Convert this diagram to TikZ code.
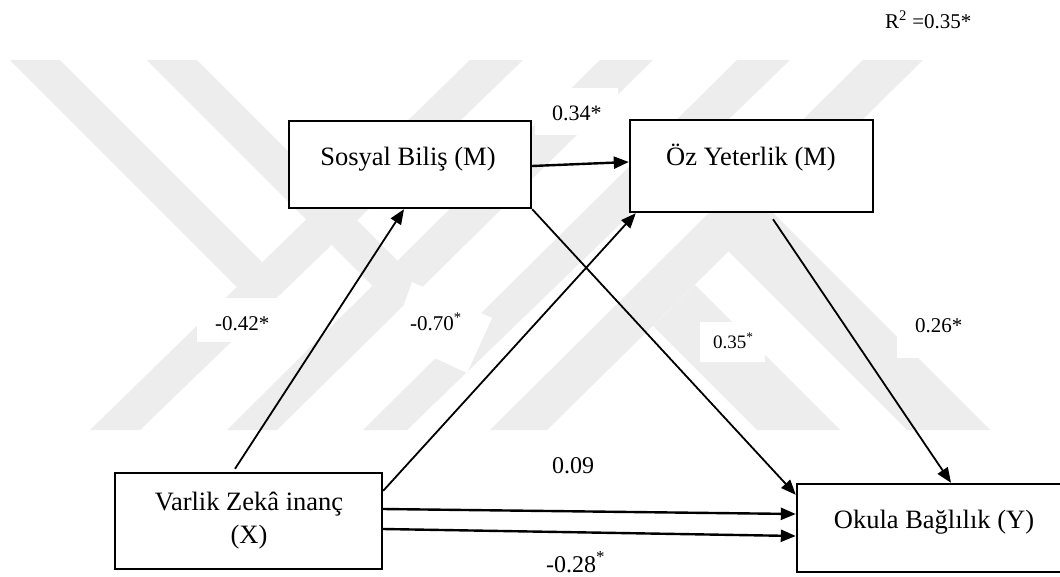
\documentclass[tikz,border=0pt]{standalone}
\usepackage{fontspec}
\setmainfont{Liberation Serif}
\usetikzlibrary{arrows.meta}
\definecolor{wm}{gray}{0.93}

\begin{document}
\begin{tikzpicture}[x=1pt,y=-1pt,
  box/.style={draw=black, line width=2.4pt, fill=white, inner sep=0pt},
  boxtxt/.style={font=\fontsize{26.5}{33}\selectfont, inner sep=0pt, anchor=base},
  lbl/.style={font=\fontsize{21}{24}\selectfont, inner sep=0pt, anchor=base west},
  arr/.style={line width=1.8pt, -{Triangle[length=15pt,width=12pt]}},
  harr/.style={arr, line width=2.4pt},
  patch/.style={fill=white, draw=none}
]
\clip (0,0) rectangle (1060,576);
\fill[white] (0,0) rectangle (1060,576);

% faint logo in the background
\fill[wm] (10,60) -- (60,60) -- (262,262) -- (237,287) -- cycle;
\fill[wm] (470,60) -- (523,60) -- (140,430) -- (90,430) -- cycle;
\fill[wm] (147,60) -- (197,60) -- (398,261) -- (373,286) -- cycle;
\fill[wm] (600,60) -- (653,60) -- (277,430) -- (227,430) -- cycle;
\fill[wm] (363,430) -- (407,430) -- (790,60) -- (737,60) -- cycle;
\fill[wm] (490,430) -- (547,430) -- (923,60) -- (863,60) -- cycle;
\fill[wm] (653,326) -- (695,285) -- (840,430) -- (757,430) -- cycle;
\fill[wm] (728,251) -- (770,210) -- (990,430) -- (907,430) -- cycle;

% white grounds behind the coefficients
\fill[patch] (535,88) rectangle (618,135);
\fill[patch] (197,298) rectangle (280,342);
\fill[patch] (412,282) -- (492,318) -- (467,373) -- (392,338) -- cycle;
\fill[patch] (700,322) rectangle (765,362);
\fill[patch] (897,300) rectangle (975,358);

% boxes
\node[box, minimum width=242pt, minimum height=87pt] (sb) at (410,164.5) {};
\node[box, minimum width=243pt, minimum height=92pt] (oz) at (751.5,166) {};
\node[box, minimum width=267pt, minimum height=96pt] (vz) at (248.5,521) {};
\node[box, minimum width=266pt, minimum height=88pt] (ok) at (930,528) {};

\node[boxtxt] (sbt) at (408,165) {Sosyal Biliş (M)};
\node[boxtxt] (ozt) at (751,165) {Öz Yeterlik (M)};
\node[boxtxt] (vzt1) at (249,510) {Varlik Zekâ inanç};
\node[boxtxt] (vzt2) at (249,543) {(X)};
\node[boxtxt] (okt) at (934,528) {Okula Bağlılık (Y)};

% paths
\draw[harr] ([yshift=-1.5pt]sb.east) -- ([yshift=4pt]oz.west);
\draw[arr] ([xshift=-13.5pt,yshift=3pt]vz.north) -- ([xshift=-6pt]sb.south);
\draw[arr] ([yshift=-19pt]vz.north east) -- ([xshift=7pt]oz.south west);
\draw[arr] (sb.south east) -- ([yshift=-12pt]ok.north west);
\draw[arr] ([xshift=21.5pt,yshift=-6pt]oz.south) -- ([xshift=21pt]ok.north);
\draw[harr] ([yshift=12pt]vz.east) -- ([yshift=14pt]ok.west);
\draw[harr] ([yshift=-8pt]vz.east) -- ([yshift=-8pt]ok.west);

% coefficients
\node[lbl] (r2) at (885,28) {R\textsuperscript{2} =0.35*};
\node[lbl, font=\fontsize{22}{24}\selectfont] (c1) at (552,120) {0.34*};
\node[lbl] (c2) at (215,330) {-0.42*};
\node[lbl] (c3) at (410,330) {-0.70\textsuperscript{*}};
\node[lbl, font=\fontsize{19}{22}\selectfont] (c4) at (713,348) {0.35\textsuperscript{*}};
\node[lbl] (c5) at (915,332) {0.26*};
\node[lbl, font=\fontsize{24}{26}\selectfont] (c6) at (552,473) {0.09};
\node[lbl, font=\fontsize{24}{26}\selectfont] (c7) at (546,572) {-0.28\textsuperscript{*}};
\end{tikzpicture}
\end{document}
